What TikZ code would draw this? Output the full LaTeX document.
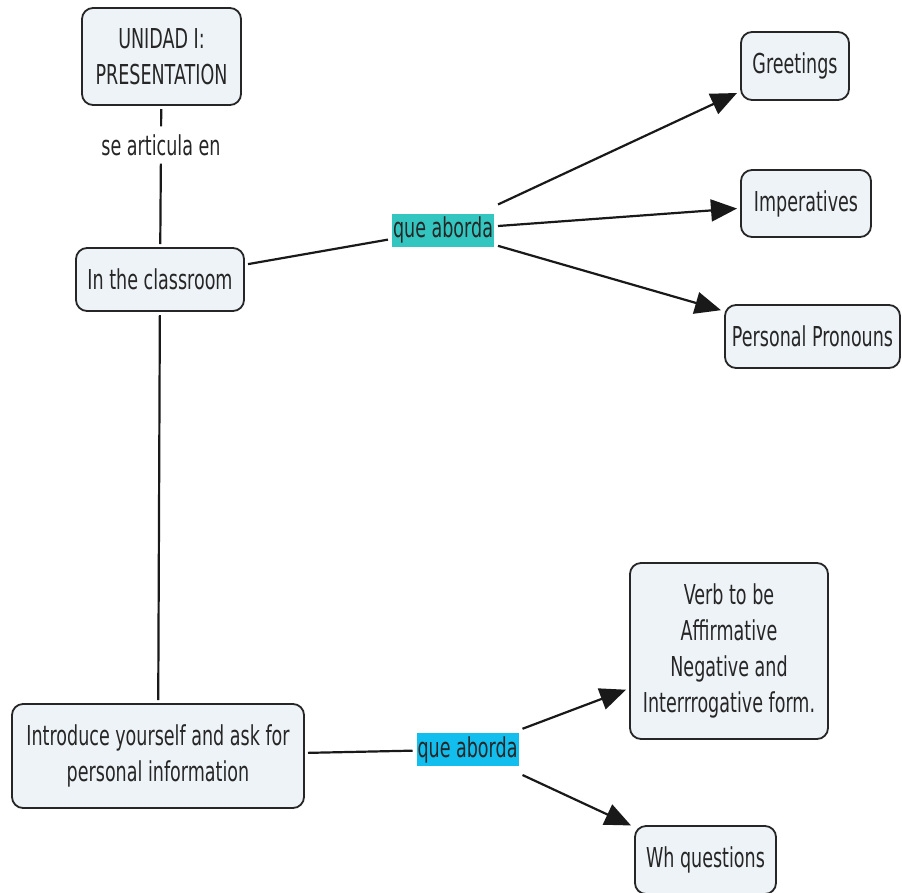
\documentclass[tikz,border=0pt]{standalone}
\usepackage{fontspec}
\setmainfont{DejaVu Sans}[FakeStretch=0.64]
\usetikzlibrary{arrows.meta}
\definecolor{boxfill}{HTML}{EDF3F6}
\definecolor{tealfill}{HTML}{33C6C0}
\definecolor{cyanfill}{HTML}{12BEEE}

\begin{document}
\begin{tikzpicture}[x=1pt, y=-1pt,
    every node/.style={font=\fontsize{27.4}{36}\selectfont, text=black!85},
    concept/.style={draw=black!85, line width=1.8pt, rounded corners=11pt,
      fill=boxfill, align=center, inner sep=0pt, outer sep=4pt},
    linkword/.style={inner sep=1pt, minimum height=33pt, outer xsep=4pt, outer ysep=25pt},
    phrase/.style={inner sep=0pt, outer sep=8pt},
    connect/.style={draw=black!90, line width=2.2pt},
    arrow/.style={connect, -{Triangle[length=26pt, width=22pt]}}]

    \useasboundingbox (0,0) rectangle (902,892);

    \node[concept, minimum width=159pt, minimum height=97pt] (unidad) at (161.5,56.5)
      {UNIDAD I:\\PRESENTATION};
    \node[phrase] (articula) at (161,145) {se articula en};
    \node[concept, minimum width=168pt, minimum height=63pt] (classroom) at (160,279.5)
      {In the classroom};
    \node[linkword, fill=tealfill] (aborda1) at (443,230) {que aborda};
    \node[concept, minimum width=108pt, minimum height=68pt] (greetings) at (795,66)
      {Greetings};
    \node[concept, minimum width=130pt, minimum height=67pt] (imperatives) at (806,203.5)
      {Imperatives};
    \node[concept, minimum width=175pt, minimum height=63pt] (pronouns) at (812.5,336.5)
      {Personal Pronouns};

    \node[concept, minimum width=292pt, minimum height=104pt] (introduce) at (158,756)
      {Introduce yourself and ask for\\personal information};
    \node[linkword, fill=cyanfill] (aborda2) at (467.5,749.5) {que aborda};
    \node[concept, minimum width=198pt, minimum height=176pt] (verb) at (729,651)
      {Verb to be\\Affirmative\\Negative and\\Interrrogative form.};
    \node[concept, minimum width=141pt, minimum height=68pt] (wh) at (705.5,860)
      {Wh questions};

    % first branch
    \draw[connect] (unidad) -- (articula);
    \draw[connect] (articula) -- (classroom);
    \draw[connect] (classroom) -- (aborda1);
    \draw[arrow] (aborda1) -- (greetings);
    \draw[arrow] (aborda1) -- (imperatives);
    \draw[arrow] (aborda1) -- (pronouns);

    % second branch
    \draw[connect] (classroom) -- (introduce);
    \draw[connect] (introduce) -- (aborda2);
    \draw[arrow] (aborda2) -- (verb);
    \draw[arrow] (aborda2) -- (wh);
\end{tikzpicture}
\end{document}
